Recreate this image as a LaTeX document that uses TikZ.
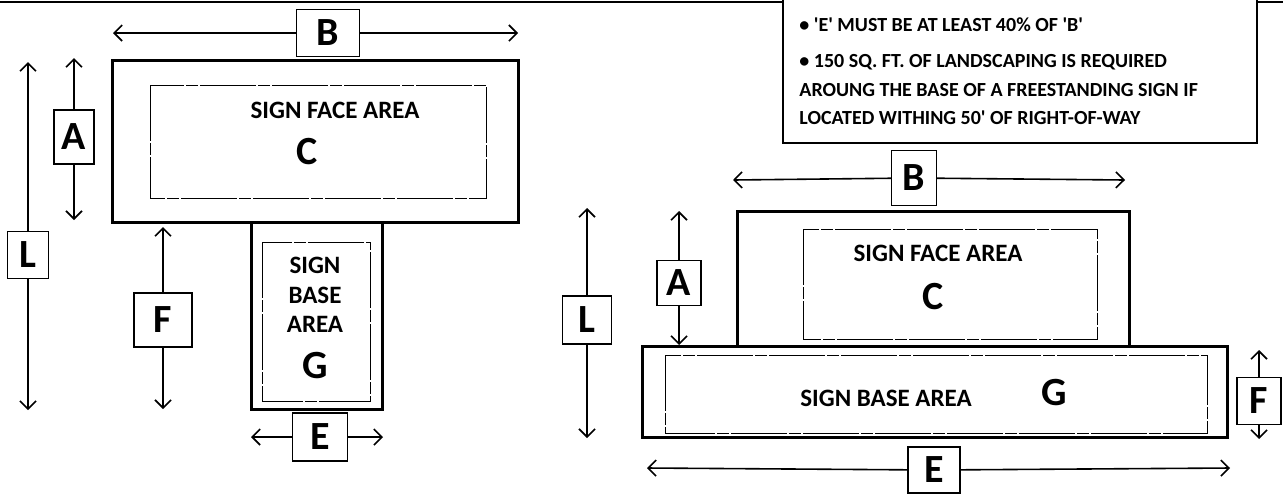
\documentclass[tikz,border=0pt]{standalone}
\usepackage{fontspec}
\setmainfont{Carlito}
\usetikzlibrary{arrows.meta}

\begin{document}
\begin{tikzpicture}[
    x=0.5pt, y=-0.5pt,
    panel/.style={draw, line width=1.5pt},
    innerarea/.style={draw, line width=0.5pt, dash pattern=on 28pt off 1pt on 6pt off 1pt},
    dimlabel/.style={rectangle, draw, fill=white, line width=0.6pt, inner sep=0pt, font=\bfseries\fontsize{20}{24}\selectfont},
    dimline/.style={line width=0.8pt, -{Straight Barb[length=4pt, width=8pt]}},
    areatext/.style={font=\bfseries\fontsize{12.5}{14.75}\selectfont, align=center, inner sep=0pt},
    notetext/.style={anchor=base west, font=\bfseries\fontsize{10}{12}\selectfont, inner sep=0pt}
]
\useasboundingbox (0,0) rectangle (1283,494);

% page frame and notes box
\draw[line width=1pt] (0,2) -- (1283,2);
\draw[fill=white, line width=1pt] (783,-20) rectangle (1257,143);
\node[notetext] (note1) at (799,31) {• \textquotesingle E\textquotesingle\ MUST BE AT LEAST 40\% OF \textquotesingle B\textquotesingle};
\node[notetext] (note2) at (799,67) {• 150 SQ. FT. OF LANDSCAPING IS REQUIRED};
\node[notetext] (note3) at (799,96) {AROUNG THE BASE OF A FREESTANDING SIGN IF};
\node[notetext] (note4) at (799,124.5) {LOCATED WITHING 50\textquotesingle\ OF RIGHT-OF-WAY};

% left sign: face on top, narrow base below
\draw[panel] (112,60) rectangle (518,222);
\draw[innerarea] (150,85) rectangle (486,198);
\node[areatext] (lface) at (335,110) {SIGN FACE AREA};
\node[dimlabel, draw=none, fill=none] (lC) at (307,152) {C};
\draw[panel] (251,222) rectangle (382,409);
\draw[innerarea] (262,242) rectangle (370,401);
\node[areatext] (lbase) at (315,295) {SIGN\\BASE\\AREA};
\node[dimlabel, draw=none, fill=none] (lG) at (315,366) {G};

% left dimensions
\coordinate (lBw) at (113,33);  \coordinate (lBe) at (518,33);
\coordinate (lAn) at (74,58);   \coordinate (lAs) at (74,220);
\coordinate (lLn) at (28,62);   \coordinate (lLs) at (28,410);
\coordinate (lFn) at (163,227); \coordinate (lFs) at (163,409);
\coordinate (lEw) at (251,437); \coordinate (lEe) at (383,437);
\node[dimlabel, minimum width=31.5pt, minimum height=23.5pt] (lB) at (328,33) {B};
\node[dimlabel, minimum width=20pt, minimum height=27pt] (lA) at (74,137) {A};
\node[dimlabel, minimum width=20.5pt, minimum height=23.5pt] (lL) at (28,255) {L};
\node[dimlabel, minimum width=29pt, minimum height=27pt] (lF) at (163,320) {F};
\node[dimlabel, minimum width=27.5pt, minimum height=24pt] (lE) at (320,437) {E};
\draw[dimline] (lB) -- (lBw);
\draw[dimline] (lB) -- (lBe);
\draw[dimline] (lA) -- (lAn);
\draw[dimline] (lA) -- (lAs);
\draw[dimline] (lL) -- (lLn);
\draw[dimline] (lL) -- (lLs);
\draw[dimline] (lF) -- (lFn);
\draw[dimline] (lF) -- (lFs);
\draw[dimline] (lE) -- (lEw);
\draw[dimline] (lE) -- (lEe);

% right sign: face sitting on a wide base
\draw[panel] (737,211) rectangle (1129,346);
\draw[innerarea] (803,229) rectangle (1097,339);
\node[areatext] (rface) at (938,253) {SIGN FACE AREA};
\node[dimlabel, draw=none, fill=none] (rC) at (933,297) {C};
\draw[panel] (642,346) rectangle (1227,437);
\draw[innerarea] (665,355) rectangle (1207,433);
\node[areatext] (rbase) at (886,398) {SIGN BASE AREA};
\node[dimlabel, draw=none, fill=none] (rG) at (1054,393) {G};

% right dimensions
\coordinate (rBw) at (733,180);  \coordinate (rBe) at (1125,180);
\coordinate (rAn) at (679,211);  \coordinate (rAs) at (679,345);
\coordinate (rLn) at (587,208);  \coordinate (rLs) at (587,438);
\coordinate (rFn) at (1259,350); \coordinate (rFs) at (1259,439);
\coordinate (rEw) at (647,468);  \coordinate (rEe) at (1230,468);
\node[dimlabel, minimum width=22.5pt, minimum height=27.5pt] (rB) at (914,178) {B};
\node[dimlabel, minimum width=22pt, minimum height=22.5pt] (rA) at (679,283) {A};
\node[dimlabel, minimum width=24.5pt, minimum height=24pt] (rL) at (587,320) {L};
\node[dimlabel, minimum width=22pt, minimum height=23.5pt] (rF) at (1259,401) {F};
\node[dimlabel, minimum width=26pt, minimum height=23pt] (rE) at (934,470) {E};
\draw[dimline] (rB) -- (rBw);
\draw[dimline] (rB) -- (rBe);
\draw[dimline] (rA) -- (rAn);
\draw[dimline] (rA) -- (rAs);
\draw[dimline] (rL) -- (rLn);
\draw[dimline] (rL) -- (rLs);
\draw[dimline] (rF) -- (rFn);
\draw[dimline] (rF) -- (rFs);
\draw[dimline] (rE) -- (rEw);
\draw[dimline] (rE) -- (rEe);

\end{tikzpicture}
\end{document}
